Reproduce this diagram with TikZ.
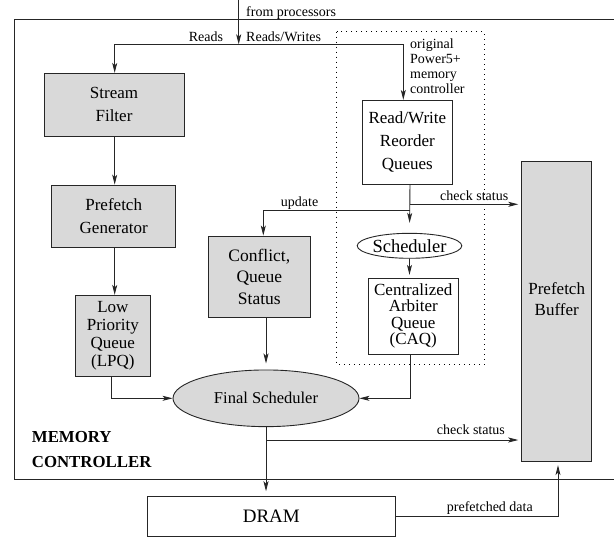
\documentclass[tikz,border=0pt]{standalone}
\usepackage{fontspec}
\setmainfont{Liberation Serif}
\usetikzlibrary{arrows.meta,shapes.geometric,calc}
\definecolor{boxgray}{RGB}{217,217,217}
\tikzset{
  ln/.style={line width=0.9pt,draw=black!85},
  arr/.style={ln,-{Stealth[length=10pt,width=5pt,inset=2.5pt]}},
  gbox/.style={ln,fill=boxgray,inner sep=0pt,align=center,font=\fontsize{17}{23}\selectfont},
  wbox/.style={ln,fill=white,inner sep=0pt,align=center,font=\fontsize{17}{23}\selectfont},
  lbl/.style={inner sep=0pt,font=\fontsize{14}{15}\selectfont},
  dotbox/.style={line width=1pt,dash pattern=on 0.9pt off 4.1pt}
}
\begin{document}
\begin{tikzpicture}[x=1pt,y=-1pt]
\useasboundingbox (0,0) rectangle (614,541);
% outer memory controller frame (cut at right edge)
\draw[ln] (616,19) -- (14,19) -- (14,479.5) -- (616,479.5);
% dotted Power5+ region
\draw[dotbox] (336.7,31.7) rectangle (484.3,364.3);

% boxes
\node[gbox,minimum width=140pt,minimum height=62.7pt] (sf) at (114,104.7) {Stream\\Filter};
\node[gbox,minimum width=124pt,minimum height=62.3pt] (pg) at (113.7,216.2) {Prefetch\\Generator};
\node[gbox,minimum width=74.3pt,minimum height=80.7pt,font=\fontsize{17}{17.7}\selectfont] (lpq) at (112.85,335.7) {Low\\Priority\\Queue\\(LPQ)};
\node[gbox,minimum width=101.3pt,minimum height=81.3pt,font=\fontsize{17.5}{21.5}\selectfont] (cf) at (259.35,276.65) {Conflict,\\Queue\\Status};
\node[wbox,minimum width=90.7pt,minimum height=84pt] (rw) at (407.35,142.3) {Read/Write\\Reorder\\Queues};
\node[ellipse,ln,fill=white,inner sep=0pt,minimum width=95.6pt,minimum height=25pt,font=\fontsize{18.5}{20}\selectfont] (sch) at (409.5,245.8) {Scheduler};
\node[wbox,minimum width=90pt,minimum height=75.7pt,font=\fontsize{17}{16.5}\selectfont] (caq) at (413.3,316.15) {Centralized\\Arbiter\\Queue\\(CAQ)};
\node[gbox,minimum width=70pt,minimum height=300pt] (pb) at (556.7,311.7) {};
\node[inner sep=0pt,align=center,font=\fontsize{17}{21.7}\selectfont] (pbt) at (556.7,299) {Prefetch\\Buffer};
\node[ellipse,ln,fill=boxgray,inner sep=0pt,minimum width=186pt,minimum height=56.7pt,font=\fontsize{16.5}{20}\selectfont] (fs) at (266,398.3) {Final Scheduler};
\node[wbox,minimum width=247.4pt,minimum height=40pt,font=\fontsize{19}{20}\selectfont] (dram) at (271.3,516.7) {DRAM};

% labels
\node[lbl,anchor=base west] (lfp) at (246,16.3) {from processors};
\node[lbl,anchor=base east] (lrd) at (223.3,41.2) {Reads};
\node[lbl,anchor=base west] (lrw) at (246,41.2) {Reads/Writes};
\node[lbl,anchor=base west] (lo1) at (410,48.3) {original};
\node[lbl,anchor=base west] (lo2) at (410,63.3) {Power5+};
\node[lbl,anchor=base west] (lo3) at (410,78.3) {memory};
\node[lbl,anchor=base west] (lo4) at (410,93.3) {controller};
\node[lbl,anchor=base west] (lup) at (280.7,206) {update};
\node[lbl,anchor=base west] (lcs1) at (440,200.5) {check status};
\node[lbl,anchor=base west] (lcs2) at (436.7,434.3) {check status};
\node[lbl,anchor=base west] (lpd) at (446.7,511.7) {prefetched data};
\node[inner sep=0pt,anchor=base west,font=\fontsize{16.8}{20}\bfseries] (mc1) at (31.7,442.3) {MEMORY};
\node[inner sep=0pt,anchor=base west,font=\fontsize{16.8}{20}\bfseries] (mc2) at (31.7,467.3) {CONTROLLER};

% coordinates
\coordinate (top) at (238.7,0);
\coordinate (hl) at (114.7,44.3);
\coordinate (hm) at (238.7,44.3);
\coordinate (hr) at (403.3,44.3);
\coordinate (rwb) at (410,184.3);
\coordinate (cs1) at (410,204.3);
\coordinate (upd) at (410,210.7);
\coordinate (updl) at (263.3,210.7);
\coordinate (caqb) at (410,354);
\coordinate (fstop) at (266,317.3);
\coordinate (cs2) at (266,440);
\coordinate (pdx) at (558,516.7);
\coordinate (lpqb) at (111.3,376);

% connectors
\draw[arr] (top) -- (hm);
\draw[ln] (hl) -- (hr);
\draw[arr] (hl) -- (hl |- sf.north);
\draw[arr] (hr) -- (hr |- rw.north);
\draw[arr] (sf.south -| hl) -- (hl |- pg.north);
\draw[arr] (pg.south -| hl) -- (hl |- lpq.north);
\draw[arr,shorten >=10pt] (rwb) -- (sch.north);
\draw[arr,shorten >=3pt] (cs1) -- (pb.west |- cs1);
\draw[arr] (upd) -- (updl) -- (updl |- cf.north);
\draw[arr,shorten >=3pt] (sch.south) -- (sch.south |- caq.north);
\draw[arr] (caqb) |- (fs.east);
\draw[arr] (lpqb) |- (fs.west);
\draw[arr,shorten >=6pt] (fstop) -- (fs.north);
\draw[arr,shorten >=5pt] (fs.south) -- (fs.south |- dram.north);
\draw[arr,shorten >=3pt] (cs2) -- (pb.west |- cs2);
\draw[arr,shorten >=3pt] (dram.east) -- (pdx) -- (pdx |- pb.south);
\end{tikzpicture}
\end{document}
